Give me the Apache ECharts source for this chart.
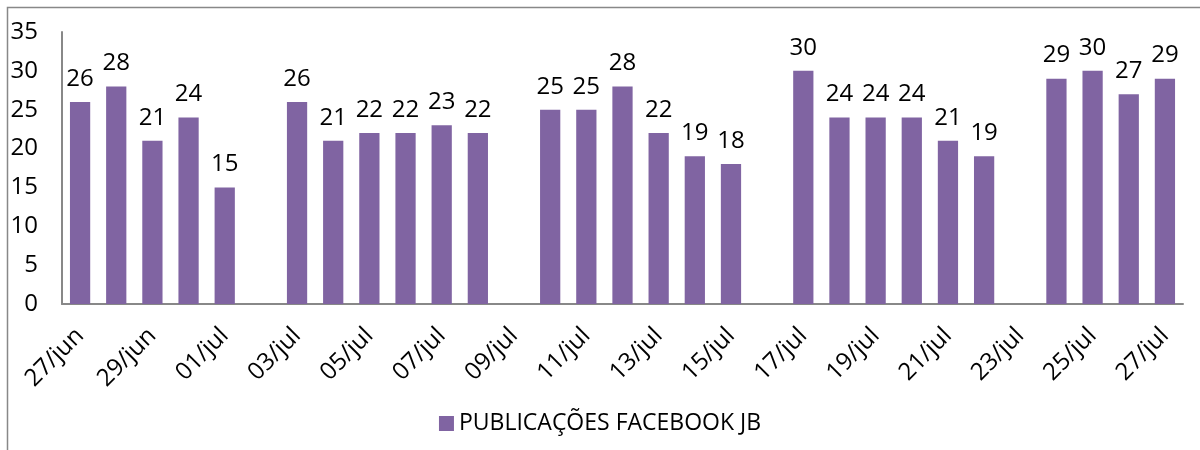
<!DOCTYPE html>
<html>
<head>
<meta charset="utf-8">
<script src="https://cdn.jsdelivr.net/npm/echarts@6/dist/echarts.min.js"></script>
<style>
  html, body { margin: 0; padding: 0; background: #fff; }
  #main { width: 1200px; height: 450px; }
</style>
</head>
<body>
<div id="main"></div>
<script>
// dias (27/jun a 27/jul) e publicações por dia; null = sem publicação registrada
var dias = ['27/jun', '28/jun', '29/jun', '30/jun', '01/jul', '02/jul', '03/jul', '04/jul',
    '05/jul', '06/jul', '07/jul', '08/jul', '09/jul', '10/jul', '11/jul', '12/jul',
    '13/jul', '14/jul', '15/jul', '16/jul', '17/jul', '18/jul', '19/jul', '20/jul',
    '21/jul', '22/jul', '23/jul', '24/jul', '25/jul', '26/jul', '27/jul'];
var publicacoes = [26, 28, 21, 24, 15, null, 26, 21, 22, 22, 23, 22, null, 25, 25, 28,
    22, 19, 18, null, 30, 24, 24, 24, 21, 19, null, 29, 30, 27, 29];
var nomeSerie = 'PUBLICAÇÕES FACEBOOK JB';

var fonte = 'Open Sans';
var chartDom = document.getElementById('main');
var myChart = echarts.init(chartDom);

var option = {
    animation: false,
    textStyle: { fontFamily: fonte },
    graphic: [{
        type: 'rect',
        shape: { x: 7.5, y: 7.5, width: 1300, height: 600 },
        style: { fill: 'none', stroke: '#888', lineWidth: 1.5 },
        silent: true
    }],
    grid: { left: 62, right: 17, top: 32, bottom: 146 },
    legend: {
        data: [nomeSerie],
        bottom: 10,
        left: 'center',
        itemWidth: 15,
        itemHeight: 15,
        itemGap: 8,
        icon: 'rect',
        textStyle: { fontSize: 23, color: '#000', fontFamily: fonte }
    },
    xAxis: {
        type: 'category',
        data: dias,
        axisLine: { lineStyle: { color: '#888', width: 2 } },
        axisTick: { show: false },
        axisLabel: {
            interval: 1,
            rotate: 45,
            fontSize: 24,
            color: '#000',
            margin: 28
        }
    },
    yAxis: {
        type: 'value',
        min: 0,
        max: 35,
        interval: 5,
        axisLine: { show: true, lineStyle: { color: '#888', width: 2 } },
        axisTick: { show: false },
        splitLine: { show: false },
        axisLabel: { fontSize: 24, color: '#000', margin: 24 }
    },
    series: [{
        name: nomeSerie,
        type: 'bar',
        data: publicacoes,
        barCategoryGap: '44%',
        itemStyle: { color: '#8064a2' },
        label: {
            show: true,
            position: 'top',
            distance: 11,
            fontSize: 24,
            color: '#000'
        }
    }]
};

option && myChart.setOption(option);
</script>
</body>
</html>
